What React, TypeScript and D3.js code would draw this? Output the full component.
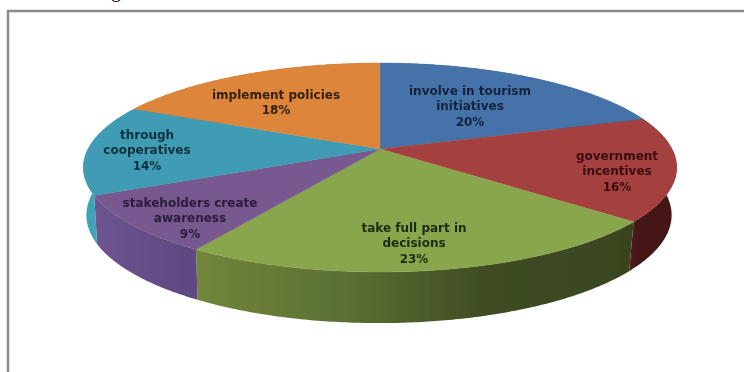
import React from "react";
import * as d3 from "d3";

// Share of responses per way of involving the community, clockwise from twelve o'clock.
const categories = [
  "involve in tourism initiatives",
  "government incentives",
  "take full part in decisions",
  "stakeholders create awareness",
  "through cooperatives",
  "implement policies",
];
const shares = [20, 16, 23, 9, 14, 18];
const labelLines = [
  ["involve in tourism", "initiatives", "20%"],
  ["government", "incentives", "16%"],
  ["take full part in", "decisions", "23%"],
  ["stakeholders create", "awareness", "9%"],
  ["through", "cooperatives", "14%"],
  ["implement policies", "18%"],
];
const labelCentres: [number, number][] = [
  [470, 91],
  [617, 156],
  [414, 228],
  [190, 203],
  [147, 135],
  [276, 95],
];
const topColours = ["#4472a9", "#a5413f", "#8aa64d", "#77598f", "#409bb4", "#dd853a"];
const sideStops = [
  ["#2f5078", "#2f5078"],
  ["#551f1d", "#451715"],
  ["#708639", "#5c7034", "#3f4d22", "#39451f"],
  ["#6d5490", "#5d4880"],
  ["#3fa3b8", "#2f8ea2"],
  ["#a0601f", "#a0601f"],
];
const textColours = ["#14233a", "#35100f", "#1d2a10", "#2a1a3c", "#10303c", "#33200e"];

// The tilted disc is a circle seen in perspective: k sets how much the far edge shrinks.
const k = 0.177;
const topPlane = { cx: 380, cy: 149, rx: 292, ry: 101.2 };
const basePlane = { cx: 379, cy: 196, rx: 288, ry: 104.6 };

type Plane = typeof topPlane;

function project(p: Plane, angle: number): [number, number] {
  const u = Math.sin(angle);
  const v = Math.cos(angle);
  const w = 1 + k * v;
  return [p.cx + (p.rx * u) / w, p.cy - (p.ry * v) / w];
}

function arcPoints(p: Plane, a0: number, a1: number): [number, number][] {
  const steps = Math.max(2, Math.ceil((a1 - a0) / 0.01));
  return d3.range(steps + 1).map((i) => project(p, a0 + ((a1 - a0) * i) / steps));
}

const line = d3.line<[number, number]>();

export default function App() {
  const arcs = d3.pie<number>().sort(null)(shares);

  return (
    <svg
      width={744}
      height={372}
      style={{ position: "absolute", left: 0, top: 0, background: "#fff" }}
      fontFamily="'DejaVu Sans', sans-serif"
    >
      <defs>
        <filter id="soft" x="-5%" y="-5%" width="110%" height="110%">
          <feGaussianBlur stdDeviation="0.5" />
        </filter>
        {arcs.map((a, i) => {
          const xs = [project(basePlane, a.startAngle)[0], project(basePlane, a.endAngle)[0]];
          const stops = sideStops[i];
          return (
            <linearGradient
              key={i}
              id={`side${i}`}
              gradientUnits="userSpaceOnUse"
              x1={d3.min(xs)}
              x2={d3.max(xs)}
              y1={0}
              y2={0}
            >
              {stops.map((c, j) => (
                <stop key={j} offset={j / (stops.length - 1)} stopColor={c} />
              ))}
            </linearGradient>
          );
        })}
      </defs>

      <text x={111} y={-3} fontFamily="'Liberation Serif', serif" fontSize={20} fill="#111">
        g
      </text>

      <path d="M8 372V11H744" fill="none" stroke="#8c8c8c" strokeWidth={2.4} />

      <g filter="url(#soft)">
        {arcs.map((a, i) => {
          const outer = arcPoints(topPlane, a.startAngle, a.endAngle);
          const inner = arcPoints(basePlane, a.startAngle, a.endAngle).reverse();
          return <path key={i} d={`${line([...outer, ...inner])}Z`} fill={`url(#side${i})`} />;
        })}
        {arcs.map((a, i) => {
          const rim = arcPoints(topPlane, a.startAngle, a.endAngle);
          return (
            <path
              key={i}
              d={`${line([[topPlane.cx, topPlane.cy], ...rim])}Z`}
              fill={topColours[i]}
              stroke={topColours[i]}
              strokeWidth={0.4}
            />
          );
        })}
      </g>

      <g
        filter="url(#soft)"
        textAnchor="middle"
        fontWeight={700}
        fontSize={12}
        aria-label={categories.join(", ")}
      >
        {labelLines.map((lines, i) => (
          <text key={i} fill={textColours[i]}>
            {lines.map((t, j) => (
              <tspan key={j} x={labelCentres[i][0]} y={labelCentres[i][1] + j * 15.3 + 4}>
                {t}
              </tspan>
            ))}
          </text>
        ))}
      </g>
    </svg>
  );
}
